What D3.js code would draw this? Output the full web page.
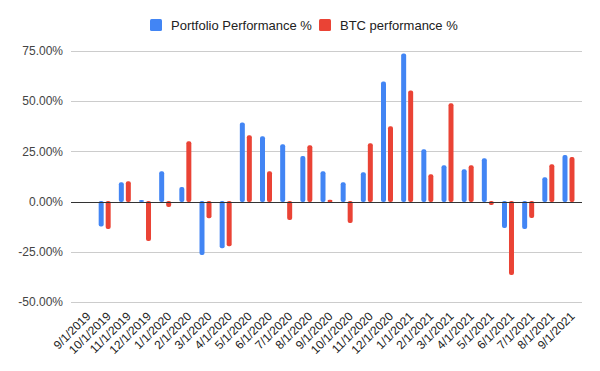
<!DOCTYPE html>
<html>
<head>
<meta charset="utf-8">
<script src="https://cdn.jsdelivr.net/npm/d3@7"></script>
<style>
  body { margin: 0; background: #fff; }
  svg { font-family: "Liberation Sans", Arial, sans-serif; }
</style>
</head>
<body>
<svg id="chart" width="600" height="371"></svg>
<script>
var months = ['9/1/2019','10/1/2019','11/1/2019','12/1/2019','1/1/2020','2/1/2020','3/1/2020',
  '4/1/2020','5/1/2020','6/1/2020','7/1/2020','8/1/2020','9/1/2020','10/1/2020','11/1/2020',
  '12/1/2020','1/1/2021','2/1/2021','3/1/2021','4/1/2021','5/1/2021','6/1/2021','7/1/2021',
  '8/1/2021','9/1/2021'];
// first month has no previous value to compare against
var portfolio = [null, -12.1, 9.4, 0.5, 14.9, 7.0, -26.3, -23.0, 39.2, 32.3, 28.3, 22.4, 14.9,
  9.4, 14.4, 59.6, 73.5, 25.8, 17.9, 15.9, 21.4, -12.9, -13.4, 11.9, 22.9];
var btc = [null, -13.4, 9.9, -19.4, -2.5, 29.8, -8.1, -22.0, 32.8, 14.9, -8.9, 27.8, 0.7,
  -10.4, 28.8, 37.3, 55.1, 13.4, 48.7, 17.9, -1.5, -36.3, -7.9, 18.4, 21.9];
var yTicks = [-50, -25, 0, 25, 50, 75];
var seriesNames = ['Portfolio Performance %', 'BTC performance %'];
var colors = ['#4285f4', '#ea4335'];

var svg = d3.select('#chart');
var x = d3.scaleBand().domain(months).range([71, 582]).paddingOuter(0.17);
var y = d3.scaleLinear().domain([-50, 75]).range([302, 51]);

// grid
svg.append('g').selectAll('line')
   .data(yTicks)
   .enter().append('line')
   .attr('x1', 71).attr('x2', 582)
   .attr('y1', function(d){ return Math.round(y(d)) + 0.5; })
   .attr('y2', function(d){ return Math.round(y(d)) + 0.5; })
   .attr('stroke', function(d){ return d === 0 ? '#333' : '#ccc'; })
   .attr('stroke-width', 1);

svg.append('g').selectAll('text')
   .data(yTicks)
   .enter().append('text')
   .attr('x', 63)
   .attr('y', function(d){ return y(d); })
   .attr('dy', '0.35em')
   .attr('text-anchor', 'end')
   .attr('font-size', 12)
   .attr('fill', '#444')
   .text(function(d){ return d.toFixed(2) + '%'; });

// bars
var bw = 5;
function drawSeries(vals, offset, color) {
  var pts = months.map(function(m, i){ return {m: m, v: vals[i]}; })
                  .filter(function(d){ return d.v !== null; });
  svg.append('g').selectAll('rect')
     .data(pts)
     .enter().append('rect')
     .attr('x', function(d){ return x(d.m) + x.bandwidth() / 2 + offset; })
     .attr('width', bw)
     .attr('y', function(d){ return Math.min(y(d.v), y(0)) - 0.5; })
     .attr('height', function(d){ return Math.abs(y(d.v) - y(0)) + 1; })
     .attr('rx', 2)
     .attr('fill', color);
}
drawSeries(portfolio, -6, colors[0]);
drawSeries(btc, 1, colors[1]);

// redraw zero line on top
svg.append('line')
   .attr('x1', 71).attr('x2', 582)
   .attr('y1', Math.round(y(0)) + 0.5).attr('y2', Math.round(y(0)) + 0.5)
   .attr('stroke', '#333');

// x labels
svg.append('g').selectAll('text')
   .data(months)
   .enter().append('text')
   .attr('transform', function(d){
     return 'translate(' + (x(d) + x.bandwidth() / 2 + 1) + ',311) rotate(-45)';
   })
   .attr('text-anchor', 'end')
   .attr('font-size', 12)
   .attr('fill', '#222')
   .attr('dy', '0.7em')
   .text(function(d){ return d; });

// legend
var legendX = [150, 319];
var lg = svg.append('g').selectAll('g')
   .data(seriesNames)
   .enter().append('g')
   .attr('transform', function(d, i){ return 'translate(' + legendX[i] + ',19)'; });
lg.append('rect').attr('width', 12).attr('height', 12).attr('rx', 1.5)
  .attr('fill', function(d, i){ return colors[i]; });
lg.append('text').attr('x', 21).attr('y', 11).attr('font-size', 13).attr('fill', '#222')
  .text(function(d){ return d; });
</script>
</body>
</html>
